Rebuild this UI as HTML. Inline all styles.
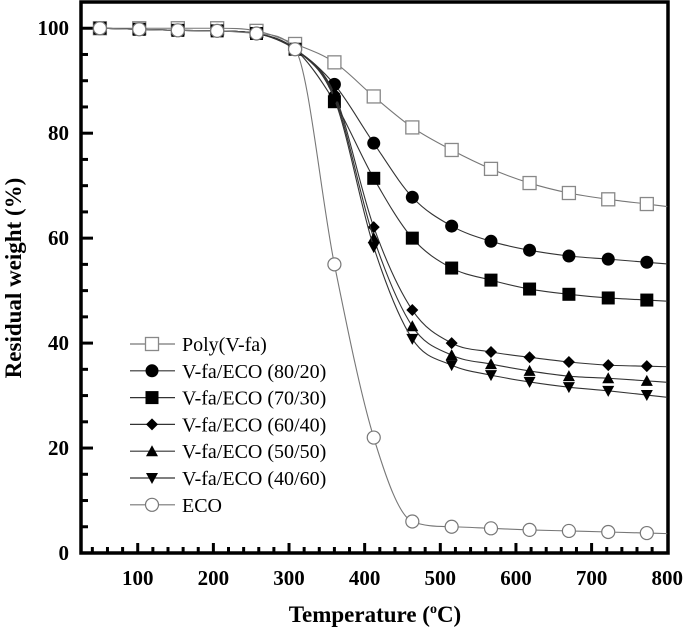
<!DOCTYPE html>
<html><head><meta charset="utf-8"><style>
body{margin:0;background:#fff;}
svg{display:block;font-family:"Liberation Serif",serif;}
</style></head><body>
<svg id="chart" width="685" height="634" viewBox="0 0 685 634"></svg>
<script>
const temps=[50,102,153,205,257,308,360,412,463,515,567,618,670,722,773];
const polyVfa=[100,100,100,100,99.5,97,93.5,87,81.1,76.8,73.2,70.5,68.6,67.4,66.5];
const s8020=[100,99.8,99.6,99.5,99,96,89.3,78.1,67.8,62.3,59.4,57.7,56.6,56,55.4];
const s7030=[100,99.8,99.6,99.5,99,96,86,71.4,60,54.3,52,50.3,49.3,48.6,48.2];
const s6040=[100,99.8,99.6,99.5,99,96,87.5,62.1,46.3,40,38.3,37.3,36.4,35.8,35.6];
const s5050=[100,99.8,99.6,99.5,99,96,87,60,43.2,37.7,36,34.7,33.7,33.3,32.8];
const s4060=[100,99.8,99.6,99.5,99,96,86.5,58.3,40.8,35.8,33.9,32.6,31.6,30.9,30.1];
const eco=[100,99.8,99.6,99.5,99,96,55,22,6,5,4.7,4.4,4.2,4,3.8];
const seriesNames=["Poly(V-fa)","V-fa/ECO (80/20)","V-fa/ECO (70/30)","V-fa/ECO (60/40)","V-fa/ECO (50/50)","V-fa/ECO (40/60)","ECO"];
const xTicks=[100,200,300,400,500,600,700,800];
const yTicks=[0,20,40,60,80,100];

const NS="http://www.w3.org/2000/svg";
const svg=document.getElementById('chart');
const L=81,R=668,T=2,B=553;
const xMin=25,xMax=801,yMin=0,yMax=105;
const X=v=>L+(v-xMin)/(xMax-xMin)*(R-L);
const Y=v=>B-(v-yMin)/(yMax-yMin)*(B-T);
function el(t,a,p){const e=document.createElementNS(NS,t);for(const k in a)e.setAttribute(k,a[k]);(p||svg).appendChild(e);return e;}

function monoPath(xs,ys){
  const n=xs.length,d=[],m=[];
  for(let i=0;i<n-1;i++)d.push((ys[i+1]-ys[i])/(xs[i+1]-xs[i]));
  m[0]=d[0];m[n-1]=d[n-2];
  for(let i=1;i<n-1;i++){m[i]=(d[i-1]*d[i]<=0)?0:(d[i-1]+d[i])/2;}
  for(let i=0;i<n-1;i++){if(d[i]===0){m[i]=0;m[i+1]=0;continue;}const a=m[i]/d[i],b=m[i+1]/d[i],s=a*a+b*b;if(s>9){const t=3/Math.sqrt(s);m[i]=t*a*d[i];m[i+1]=t*b*d[i];}}
  let p="M"+xs[0]+","+ys[0];
  for(let i=0;i<n-1;i++){const h=(xs[i+1]-xs[i])/3;p+=" C"+(xs[i]+h)+","+(ys[i]+m[i]*h)+" "+(xs[i+1]-h)+","+(ys[i+1]-m[i+1]*h)+" "+xs[i+1]+","+ys[i+1];}
  return p;
}
function marker(kind,cx,cy,g){
  const s=6.5;
  if(kind==='osq')return el('rect',{x:cx-s,y:cy-s,width:2*s,height:2*s,fill:'#fff',stroke:'#888','stroke-width':1.3},g);
  if(kind==='dot')return el('circle',{cx:cx,cy:cy,r:s,fill:'#000'},g);
  if(kind==='sq')return el('rect',{x:cx-s,y:cy-s,width:2*s,height:2*s,fill:'#000'},g);
  if(kind==='dia')return el('polygon',{points:`${cx},${cy-6} ${cx+6},${cy} ${cx},${cy+6} ${cx-6},${cy}`,fill:'#000'},g);
  if(kind==='tri')return el('polygon',{points:`${cx},${cy-6} ${cx+6},${cy+5} ${cx-6},${cy+5}`,fill:'#000'},g);
  if(kind==='itri')return el('polygon',{points:`${cx},${cy+6} ${cx+6},${cy-5} ${cx-6},${cy-5}`,fill:'#000'},g);
  if(kind==='oc')return el('circle',{cx:cx,cy:cy,r:s,fill:'#fff',stroke:'#777','stroke-width':1.2},g);
}
const data=[polyVfa,s8020,s7030,s6040,s5050,s4060,eco];
const kinds=['osq','dot','sq','dia','tri','itri','oc'];
const ids=['poly-vfa','vfa-eco-80-20','vfa-eco-70-30','vfa-eco-60-40','vfa-eco-50-50','vfa-eco-40-60','eco'];

const frame=el('rect',{x:L,y:T,width:R-L,height:B-T,fill:'none',stroke:'#000','stroke-width':3.5});


const xg=el('g',{});
for(let v=40;v<=780;v+=20){const major=v%100===0;el('line',{x1:X(v),x2:X(v),y1:B,y2:B-(major?10:6),stroke:'#000','stroke-width':3},xg);}
xTicks.forEach(v=>{const t=el('text',{x:X(v),y:B+32,'text-anchor':'middle','font-size':21,'font-weight':'bold'},xg);t.textContent=v;
});
const yg=el('g',{});
for(let v=0;v<=100;v+=5){const major=v%20===0;el('line',{x1:L,x2:L+(major?12:7),y1:Y(v),y2:Y(v),stroke:'#000','stroke-width':3},yg);}
yTicks.forEach(v=>{const t=el('text',{x:L-12,y:Y(v)+7,'text-anchor':'end','font-size':21,'font-weight':'bold'},yg);t.textContent=v;
});

data.forEach((ys,si)=>{
  const g=el('g',{});
  
  
  const xs=temps.map(X).concat([X(800)]);
  const last=ys[ys.length-1],prev=ys[ys.length-2];
  const yv=ys.concat([last+(last-prev)*(800-temps[temps.length-1])/(temps[temps.length-1]-temps[temps.length-2])]).map(Y);
  el('path',{d:monoPath(xs,yv),fill:'none',stroke:si===0||si===6?'#777':'#333','stroke-width':1.1},g);
  ys.forEach((v,i)=>{const m=marker(kinds[si],X(temps[i]),Y(v),g);
    });
});

const lg=el('g',{});
seriesNames.forEach((n,i)=>{
  const y=344+i*26.8;
  const e=el('g',{},lg);
  
  
  el('line',{x1:130,x2:175,y1:y,y2:y,stroke:i===0||i===6?'#777':'#333','stroke-width':1.2},e);
  marker(kinds[i],152,y,e);
  const t=el('text',{x:182,y:y+7,'font-size':20},e);t.textContent=n;
});

const xt=el('text',{x:375,y:622,'text-anchor':'middle','font-size':23,'font-weight':'bold'});

xt.innerHTML='Temperature (<tspan dy="-9" font-size="14">o</tspan><tspan dy="9">C)</tspan>';
const yt=el('text',{x:0,y:0,'text-anchor':'middle','font-size':23,'font-weight':'bold',transform:'translate(21,278) rotate(-90)'});

yt.textContent='Residual weight (%)';
</script>
</body></html>
